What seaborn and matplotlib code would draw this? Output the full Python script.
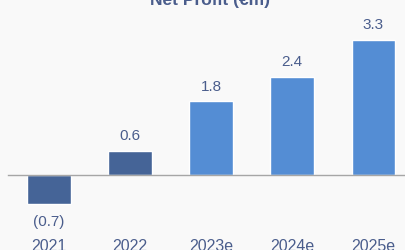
import pandas as pd
import seaborn as sns
from matplotlib import pyplot as plt
from matplotlib.ticker import FixedLocator

# data
years = ['2021', '2022', '2023e', '2024e', '2025e']
profit = [-0.7, 0.6, 1.8, 2.4, 3.3]
labels = ['(0.7)', '0.6', '1.8', '2.4', '3.3']
kind = ['actual', 'actual', 'estimate', 'estimate', 'estimate']

df = pd.DataFrame({'Year': years, 'Profit': profit, 'Kind': kind})

bg = '#f9f9f9'
txt = '#4a5d8c'
palette = {'actual': '#456497', 'estimate': '#548dd4'}

sns.set_style('white')
plt.rcParams['font.family'] = ['Liberation Sans', 'DejaVu Sans']

fig = plt.figure(figsize=(4.06, 2.51), dpi=100, facecolor=bg)
ax = fig.add_axes([8/406, 21/251, 398/406, 210/251])
ax.set_facecolor(bg)

sns.barplot(data=df, x='Year', y='Profit', hue='Kind', palette=palette,
            dodge=False, width=0.54, saturation=1, legend=False, ax=ax)

ax.set_xlim(-0.5, 4.4)
ax.set_ylim(-1.30, 3.80)

# value labels
for i, (v, lab) in enumerate(zip(profit, labels)):
    if v >= 0:
        ax.annotate(lab, (i, v), xytext=(0, 6), textcoords='offset points',
                    ha='center', va='bottom', fontsize=11, color=txt)
    else:
        ax.annotate(lab, (i, v), xytext=(0, -7), textcoords='offset points',
                    ha='center', va='top', fontsize=11, color=txt)

# axis styling
for s in ['top', 'right', 'left']:
    ax.spines[s].set_visible(False)
ax.spines['bottom'].set_position(('data', 0))
ax.spines['bottom'].set_color('#a6a6a6')
ax.spines['bottom'].set_linewidth(1)
ax.set_yticks([])
ax.set_xlabel('')
ax.set_ylabel('')
ax.xaxis.set_minor_locator(FixedLocator([-0.5, 0.5, 1.5, 2.5, 3.5]))
ax.tick_params(axis='x', which='minor', length=4, color='#a6a6a6', width=1, direction='out')
ax.tick_params(axis='x', which='major', length=0, pad=45, labelsize=11.5, labelcolor=txt)

fig.text(210/406, 1 - 5/251, 'Net Profit (€m)', ha='center', va='baseline',
         fontsize=12.5, fontweight='bold', color=txt)

fig.savefig('out.png', dpi=100, facecolor=bg)
